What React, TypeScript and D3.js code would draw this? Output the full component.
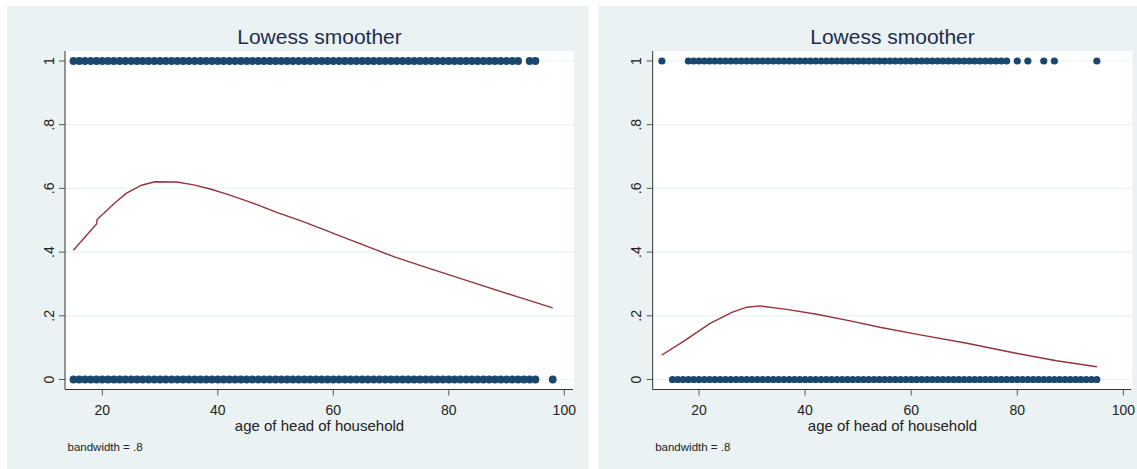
import React from "react";
import * as d3 from "d3";

// ---------------- data ----------------
const yTicks = [0, 0.2, 0.4, 0.6, 0.8, 1];
const yTickLabels = ["0", ".2", ".4", ".6", ".8", "1"];
const xTicks = [20, 40, 60, 80, 100];
const xTickLabels = ["20", "40", "60", "80", "100"];

const titleText = "Lowess smoother";
const xAxisTitle = "age of head of household";
const noteText = "bandwidth = .8";

// observed ages (y = 1 and y = 0) — left panel
const leftAgesY1 = [15,16,17,18,19,20,21,22,23,24,25,26,27,28,29,30,31,32,33,34,35,36,37,38,39,40,41,42,43,44,45,46,47,48,49,50,51,52,53,54,55,56,57,58,59,60,61,62,63,64,65,66,67,68,69,70,71,72,73,74,75,76,77,78,79,80,81,82,83,84,85,86,87,88,89,90,91,92,94,95];
const leftAgesY0 = [15,16,17,18,19,20,21,22,23,24,25,26,27,28,29,30,31,32,33,34,35,36,37,38,39,40,41,42,43,44,45,46,47,48,49,50,51,52,53,54,55,56,57,58,59,60,61,62,63,64,65,66,67,68,69,70,71,72,73,74,75,76,77,78,79,80,81,82,83,84,85,86,87,88,89,90,91,92,93,94,95,98];
// right panel
const rightAgesY1 = [13,18,19,20,21,22,23,24,25,26,27,28,29,30,31,32,33,34,35,36,37,38,39,40,41,42,43,44,45,46,47,48,49,50,51,52,53,54,55,56,57,58,59,60,61,62,63,64,65,66,67,68,69,70,71,72,73,74,75,76,77,78,80,82,85,87,95];
const rightAgesY0 = [15,16,17,18,19,20,21,22,23,24,25,26,27,28,29,30,31,32,33,34,35,36,37,38,39,40,41,42,43,44,45,46,47,48,49,50,51,52,53,54,55,56,57,58,59,60,61,62,63,64,65,66,67,68,69,70,71,72,73,74,75,76,77,78,79,80,81,82,83,84,85,86,87,88,89,90,91,92,93,94,95];

// lowess smooth (age, fitted)
const leftSmoothAge = [15, 19, 19.1, 22.2, 24.2, 26.8, 29.1, 32.9, 35.8, 38.7, 42.1, 46.2, 50.2, 54.3, 57.7, 61.8, 70.7, 77.4, 84.9, 91.8, 98];
const leftSmoothFit = [0.406, 0.488, 0.502, 0.555, 0.585, 0.61, 0.621, 0.62, 0.611, 0.598, 0.579, 0.553, 0.525, 0.499, 0.475, 0.446, 0.384, 0.344, 0.30, 0.26, 0.225];
const rightSmoothAge = [13, 17, 22.1, 26.2, 29, 31.5, 36.5, 42.2, 48.5, 54.1, 61.7, 70.5, 79.3, 87.4, 95];
const rightSmoothFit = [0.077, 0.119, 0.176, 0.211, 0.227, 0.231, 0.22, 0.205, 0.184, 0.164, 0.14, 0.114, 0.084, 0.059, 0.04];

// ---------------- styles ----------------
const BG = "#eaf2f3";
const MARKER = "#1a476f";
const LINE = "#90353b";
const FONT = "'Liberation Sans', Arial, sans-serif";

type PanelProps = {
  px0: number; px1: number; // panel background extents
  plotLeft: number; plotRight: number;
  xDomain: [number, number];
  ages1: number[]; ages0: number[];
  smAge: number[]; smFit: number[];
  r: number;
};

const Panel: React.FC<PanelProps> = ({ px0, px1, plotLeft, plotRight, xDomain, ages1, ages0, smAge, smFit, r }) => {
  const top = 51, bottom = 389.5;
  const x = d3.scaleLinear().domain(xDomain).range([plotLeft, plotRight]);
  const y = d3.scaleLinear().domain([-0.0314, 1.0314]).range([bottom, top]);
  const line = d3.line<number>().x((_, i) => x(smAge[i])).y((_, i) => y(smFit[i]));
  const cx = (plotLeft + plotRight) / 2;
  return (
    <g>
      <rect x={px0} y={6} width={px1 - px0} height={463} fill={BG} />
      <rect x={plotLeft} y={top} width={plotRight - plotLeft} height={bottom - top} fill="#ffffff" />
      {yTicks.map((t) => (
        <line key={"g" + t} x1={plotLeft} x2={plotRight} y1={y(t)} y2={y(t)} stroke={BG} strokeWidth={1.2} />
      ))}
      {ages1.map((a, i) => (
        <circle key={"a1" + i} cx={x(a)} cy={y(1)} r={r} fill={MARKER} />
      ))}
      {ages0.map((a, i) => (
        <circle key={"a0" + i} cx={x(a)} cy={y(0)} r={r} fill={MARKER} />
      ))}
      <path d={line(smAge) || ""} fill="none" stroke={LINE} strokeWidth={1.4} />
      {/* axes */}
      <line x1={plotLeft} x2={plotLeft} y1={top} y2={bottom} stroke="#333" strokeWidth={1} />
      <line x1={plotLeft} x2={plotRight - 1} y1={bottom} y2={bottom} stroke="#333" strokeWidth={1} />
      {yTicks.map((t, i) => (
        <g key={"yt" + t}>
          <line x1={plotLeft - 6} x2={plotLeft} y1={y(t)} y2={y(t)} stroke="#555" strokeWidth={1} />
          <text
            transform={`translate(${plotLeft - 11.5},${y(t)}) rotate(-90)`}
            textAnchor="middle"
            fontSize={14}
            fontFamily={FONT}
            fill="#222"
          >
            {yTickLabels[i]}
          </text>
        </g>
      ))}
      {xTicks.map((t, i) => (
        <g key={"xt" + t}>
          <line x1={x(t)} x2={x(t)} y1={bottom} y2={bottom + 6} stroke="#555" strokeWidth={1} />
          <text x={x(t)} y={415} textAnchor="middle" fontSize={14} fontFamily={FONT} fill="#222">
            {xTickLabels[i]}
          </text>
        </g>
      ))}
      <text x={cx} y={430.5} textAnchor="middle" fontSize={15} fontFamily={FONT} fill="#222">
        {xAxisTitle}
      </text>
      <text x={cx} y={43.5} textAnchor="middle" fontSize={21} fontFamily={FONT} fill="#1e2d4f">
        {titleText}
      </text>
      <text x={plotLeft + 2.5} y={450.5} fontSize={11.5} fontFamily={FONT} fill="#222">
        {noteText}
      </text>
    </g>
  );
};

export default function App() {
  return (
    <svg
      width={1137}
      height={469}
      style={{ position: "absolute", left: 0, top: 0, display: "block", background: "#ffffff" }}
    >
      <Panel
        px0={7} px1={588.5}
        plotLeft={65} plotRight={574}
        xDomain={[13.54, 101.68]}
        ages1={leftAgesY1} ages0={leftAgesY0}
        smAge={leftSmoothAge} smFit={leftSmoothFit}
        r={3.9}
      />
      <Panel
        px0={598.5} px1={1137}
        plotLeft={652.7} plotRight={1132.3}
        xDomain={[11.27, 101.69]}
        ages1={rightAgesY1} ages0={rightAgesY0}
        smAge={rightSmoothAge} smFit={rightSmoothFit}
        r={3.6}
      />
    </svg>
  );
}
